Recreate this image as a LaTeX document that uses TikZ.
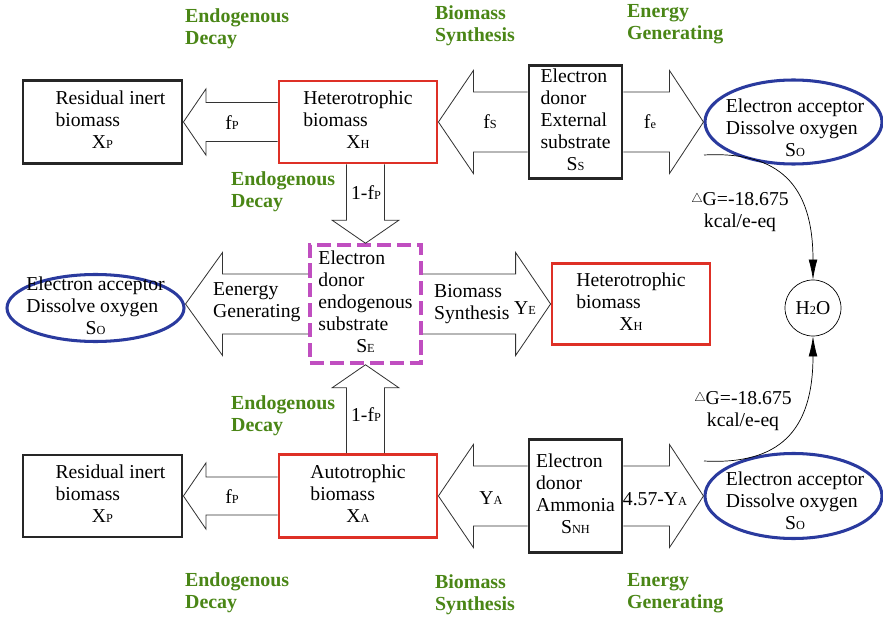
\documentclass[tikz,border=0pt]{standalone}
\usepackage{fontspec}
\setmainfont{Liberation Serif}
\usetikzlibrary{calc,arrows.meta,shapes.geometric}
\definecolor{boxred}{RGB}{222,48,38}
\definecolor{ellblue}{RGB}{42,58,158}
\definecolor{dashmag}{RGB}{192,78,192}
\definecolor{stepgreen}{RGB}{74,134,22}
\newcommand{\subtxt}[1]{{\fontsize{10.5}{10}\selectfont #1}}
\newcommand{\lastline}[1]{\multicolumn{1}{@{}c@{}}{#1}}
% open block arrow: start, tip, shaft half width, head half width, head length
\newcommand{\blockarrow}[5]{%
  \coordinate (arrbase) at ($(#2)!#5!(#1)$);
  \draw[shaftline] ($(#1)!#3!90:(#2)$) -- ($(arrbase)!#3!90:(#2)$)
    -- ($(arrbase)!#4!90:(#2)$) -- (#2) -- ($(arrbase)!#4!-90:(#2)$)
    -- ($(arrbase)!#3!-90:(#2)$) -- ($(#1)!#3!-90:(#2)$);
}
\begin{document}
\begin{tikzpicture}[x=0.03cm,y=-0.03cm,font=\fontsize{16.8}{18.8}\selectfont,
  blackbox/.style={draw=black!85,line width=2.4pt,inner sep=0pt},
  redbox/.style={draw=boxred,line width=2.4pt,inner sep=0pt},
  accept/.style={ellipse,draw=ellblue,line width=2.6pt,inner sep=0pt},
  endobox/.style={draw=dashmag,line width=3pt,dash pattern=on 12pt off 5pt,inner sep=0pt},
  steplabel/.style={text=stepgreen,font=\fontsize{17}{19}\selectfont\bfseries,align=left,anchor=west},
  shaftline/.style={draw=black!80,line width=0.7pt},
  curve/.style={-{Latex[length=0.6cm,width=0.26cm]},line width=0.6pt}]
\useasboundingbox (0,0) rectangle (883,620);

% top row
\node[blackbox,minimum width=4.77cm,minimum height=2.49cm] (resT) at (102.5,122)
  {\begin{tabular}{@{\hspace{0.48cm}}l@{}}Residual inert\\biomass\\\lastline{X\subtxt{P}}\end{tabular}};
\node[redbox,minimum width=4.74cm,minimum height=2.46cm] (hetT) at (358,122)
  {\begin{tabular}{@{}l@{}}Heterotrophic\\biomass\\\lastline{X\subtxt{H}}\end{tabular}};
\node[blackbox,minimum width=2.79cm,minimum height=3.39cm] (donT) at (575.5,122)
  {\begin{tabular}{@{}l@{}}Electron\\donor\\External\\substrate\\\lastline{S\subtxt{S}}\end{tabular}};
\node[accept,minimum width=5.31cm,minimum height=2.52cm] (ellT) at (793.5,122) {};
\node (ellTtxt) at (795,130)
  {\begin{tabular}{@{}l@{}}Electron acceptor\\Dissolve oxygen\\\lastline{S\subtxt{O}}\end{tabular}};

% middle row
\node[accept,minimum width=5.31cm,minimum height=2.01cm] (ellL) at (95.5,308) {};
\node (ellLtxt) at (ellL)
  {\begin{tabular}{@{}l@{}}Electron acceptor\\Dissolve oxygen\\\lastline{S\subtxt{O}}\end{tabular}};
\node[endobox,minimum width=3.33cm,minimum height=3.54cm] (endo) at (365.5,304)
  {\begin{tabular}{@{}l@{}}Electron\\donor\\endogenous\\substrate\\\lastline{S\subtxt{E}}\end{tabular}};
\node[redbox,minimum width=4.74cm,minimum height=2.43cm] (hetM) at (631,304)
  {\begin{tabular}{@{}l@{}}Heterotrophic\\biomass\\\lastline{X\subtxt{H}}\end{tabular}};
\node[circle,draw,line width=0.6pt,minimum size=1.68cm,inner sep=0pt] (h2o) at (813,308) {H\subtxt{2}O};

% bottom row
\node[blackbox,minimum width=4.77cm,minimum height=2.46cm] (resB) at (102.5,496)
  {\begin{tabular}{@{\hspace{0.48cm}}l@{}}Residual inert\\biomass\\\lastline{X\subtxt{P}}\end{tabular}};
\node[redbox,minimum width=4.74cm,minimum height=2.49cm] (auto) at (358,496)
  {\begin{tabular}{@{}l@{}}Autotrophic\\biomass\\\lastline{X\subtxt{A}}\end{tabular}};
\node[blackbox,minimum width=2.79cm,minimum height=3.39cm] (donB) at (575.5,496)
  {\begin{tabular}{@{}l@{}}Electron\\donor\\Ammonia\\\lastline{S\subtxt{NH}}\end{tabular}};
\node[accept,minimum width=5.31cm,minimum height=2.55cm] (ellB) at (793.5,496) {};
\node (ellBtxt) at (795,503)
  {\begin{tabular}{@{}l@{}}Electron acceptor\\Dissolve oxygen\\\lastline{S\subtxt{O}}\end{tabular}};

% block arrows
\blockarrow{hetT.west}{resT.east}{0.585cm}{0.99cm}{0.675cm}
\blockarrow{donT.west}{hetT.east}{0.9cm}{1.545cm}{1.05cm}
\blockarrow{donT.east}{ellT.west}{0.9cm}{1.545cm}{1.02cm}
\coordinate (hetdown) at (hetT.south -| endo.north);
\blockarrow{hetdown}{endo.north}{0.57cm}{1.0cm}{0.69cm}
\coordinate (ellLtip) at (endo.west -| ellL.east);
\blockarrow{endo.west}{ellLtip}{0.9cm}{1.545cm}{1.11cm}
\blockarrow{endo.east}{hetM.west}{0.9cm}{1.545cm}{1.05cm}
\coordinate (autoup) at (auto.north -| endo.south);
\blockarrow{autoup}{endo.south}{0.57cm}{1.0cm}{0.69cm}
\blockarrow{auto.west}{resB.east}{0.57cm}{0.99cm}{0.675cm}
\blockarrow{donB.west}{auto.east}{0.9cm}{1.545cm}{1.05cm}
\blockarrow{donB.east}{ellB.west}{0.9cm}{1.545cm}{1.02cm}

% arrow labels
\node (lfpT) at (232,123) {f\subtxt{P}};
\node (l1fpT) at (366,193) {1-f\subtxt{P}};
\node (lfs) at (490,122) {f\subtxt{S}};
\node (lfe) at (650,122) {f\subtxt{e}};
\node[align=left,anchor=west] (lgen) at (209,302) {Eenergy\\Generating};
\node[align=left,anchor=west] (lsyn) at (430,304) {Biomass\\Synthesis};
\node (lye) at (525,308) {Y\subtxt{E}};
\node (l1fpB) at (366,415) {1-f\subtxt{P}};
\node (lfpB) at (232,497) {f\subtxt{P}};
\node (lya) at (491,498) {Y\subtxt{A}};
\node (l457) at (655,499) {4.57-Y\subtxt{A}};

% green step labels
\node[steplabel] (decT) at (181,29) {Endogenous\\Decay};
\node[steplabel] (synT) at (431,26) {Biomass\\Synthesis};
\node[steplabel] (genT) at (623,24) {Energy\\Generating};
\node[steplabel] (decM1) at (227,192) {Endogenous\\Decay};
\node[steplabel] (decM2) at (227,416) {Endogenous\\Decay};
\node[steplabel] (decB) at (181,593) {Endogenous\\Decay};
\node[steplabel] (synB) at (431,595) {Biomass\\Synthesis};
\node[steplabel] (genB) at (623,593) {Energy\\Generating};

% free energy to water
\coordinate (topstart) at (704,155);
\coordinate (botstart) at (704,461);
\draw[curve] (topstart) .. controls +(75,-4) and +(0,-95) .. (h2o.north);
\draw[curve] (botstart) .. controls +(75,4) and +(0,95) .. (h2o.south);
\node[align=center] (dgT) at (740,212) {\raisebox{0.35ex}{\fontsize{11}{11}\selectfont$\triangle$}G=-18.675\\kcal/e-eq};
\node[align=center] (dgB) at (743,411) {\raisebox{0.35ex}{\fontsize{11}{11}\selectfont$\triangle$}G=-18.675\\kcal/e-eq};
\end{tikzpicture}
\end{document}
